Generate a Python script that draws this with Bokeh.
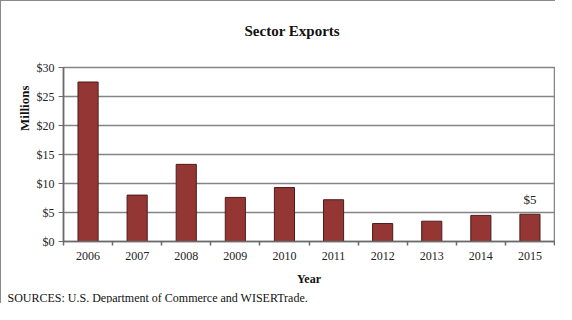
from bokeh.plotting import figure
from bokeh.models import ColumnDataSource, FixedTicker, Label, Range1d, NumeralTickFormatter, Title
from bokeh.embed import file_html
from bokeh.resources import INLINE

years = ["2006", "2007", "2008", "2009", "2010", "2011", "2012", "2013", "2014", "2015"]
exports = [27.5, 8.0, 13.3, 7.6, 9.3, 7.2, 3.1, 3.5, 4.5, 4.7]
y_ticks = [0, 5, 10, 15, 20, 25, 30]
annot_text = "$5"

FONT = "Liberation Serif"
GRAY = "#858585"

xs = list(range(len(years)))
src = ColumnDataSource(dict(x=xs, top=exports))

p = figure(width=555, height=303, output_backend="svg", toolbar_location=None,
           x_range=Range1d(-0.5, len(years) - 0.5), y_range=Range1d(0, 30),
           min_border_left=62, min_border_right=2, min_border_top=66, min_border_bottom=46)
p.styles = {"border-top": "1px solid #8a8a8a", "border-left": "1px solid #8a8a8a"}

p.title.visible = False
# spacer between the frame and the chart title (nearest the frame)
p.add_layout(Title(text=" ", text_font_size="24px", standoff=0), "above")
p.add_layout(Title(text="Sector Exports", align="left", offset=181, standoff=0,
                   text_font=FONT, text_font_size="15px", text_font_style="bold",
                   text_color="#111111"), "above")

p.vbar(x="x", top="top", width=0.41, source=src, fill_color="#943634",
       line_color="#4d1b1b", line_width=1)

p.outline_line_color = GRAY
p.outline_line_width = 1.5
p.xgrid.grid_line_color = None
p.ygrid.grid_line_color = GRAY
p.ygrid.grid_line_width = 1.5
p.ygrid.ticker = FixedTicker(ticks=y_ticks)

p.yaxis.ticker = FixedTicker(ticks=y_ticks)
p.yaxis.formatter = NumeralTickFormatter(format="$0")
p.yaxis.axis_line_color = "#6a6a6a"
p.yaxis.axis_line_width = 1.5
p.yaxis.major_tick_line_color = "#6a6a6a"
p.yaxis.major_tick_in = 0
p.yaxis.major_tick_out = 5
p.yaxis.minor_tick_line_color = None
p.yaxis.major_label_text_font = FONT
p.yaxis.major_label_text_font_size = "12px"
p.yaxis.major_label_text_color = "#222222"
p.yaxis.major_label_standoff = 4

p.xaxis.ticker = FixedTicker(ticks=xs, minor_ticks=[i - 0.5 for i in range(len(years) + 1)])
p.xaxis.major_label_overrides = {i: y for i, y in enumerate(years)}
p.xaxis.major_tick_in = 0
p.xaxis.major_tick_out = 0
p.xaxis.minor_tick_in = 0
p.xaxis.minor_tick_out = 4
p.xaxis.minor_tick_line_color = "#6a6a6a"
p.xaxis.minor_tick_line_width = 1.5
p.xaxis.axis_line_color = "#6a6a6a"
p.xaxis.axis_line_width = 1.5
p.xaxis.major_label_text_font = FONT
p.xaxis.major_label_text_font_size = "12px"
p.xaxis.major_label_text_color = "#222222"
p.xaxis.major_label_standoff = 6
p.xaxis.axis_label = "Year"
p.xaxis.axis_label_text_font = FONT
p.xaxis.axis_label_text_font_size = "12px"
p.xaxis.axis_label_text_font_style = "bold"
p.xaxis.axis_label_text_color = "#111111"
p.xaxis.axis_label_standoff = 9

# Value annotation above last bar
p.add_layout(Label(x=len(years) - 1, y=exports[-1] + 1.3, text=annot_text,
                   text_font=FONT, text_font_size="13px", text_align="center",
                   text_color="#222222"))

p.add_layout(Title(text="Millions", align="right", offset=18, standoff=3,
                   text_font=FONT, text_font_size="13px", text_font_style="bold",
                   text_color="#111111"), "left")
p.add_layout(Title(text="SOURCES: U.S. Department of Commerce and WISERTrade.",
                   align="left", offset=-56, standoff=0,
                   text_font=FONT, text_font_size="12px", text_font_style="normal",
                   text_color="#111111"), "below")

open("out.html", "w").write(file_html(p, INLINE))
